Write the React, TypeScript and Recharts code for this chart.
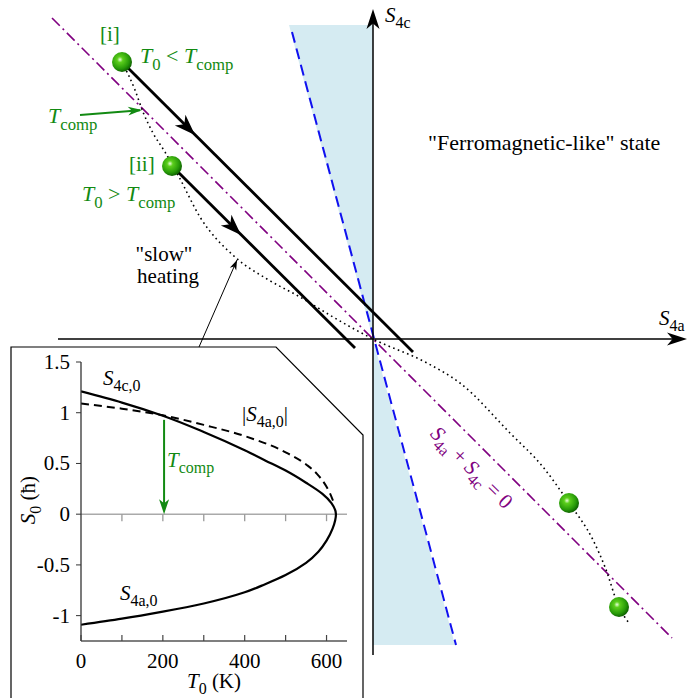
import React from "react";
import {
  ComposedChart,
  Line,
  Area,
  Scatter,
  XAxis,
  YAxis,
  ReferenceLine,
  Customized,
} from "recharts";

const SERIF = '"Liberation Serif", "Times New Roman", Tinos, "DejaVu Serif", serif';
const GREEN = "#128a12";
const PURPLE = "#800080";

// ---- main S4a / S4c plane (1 unit = 100 px) ----
const wedgeTop = [
  { a: -0.84, c: [3.14, 3.14] },
  { a: 0, c: [0, 3.14] },
];
const wedgeBottom = [
  { a: 0, c: [-3.06, 0] },
  { a: 0.82, c: [-3.06, -3.06] },
];
const wedgeEdge = [
  { a: -0.81, c: 3.07 },
  { a: 0.83, c: -3.06 },
];
const compLine = [
  { a: -3.21, c: 3.21 },
  { a: 2.99, c: -2.99 },
];
const pathI = [
  { a: -2.51, c: 2.77 },
  { a: 0.4, c: -0.13 },
];
const pathII = [
  { a: -2.01, c: 1.73 },
  { a: -0.18, c: -0.09 },
];
const slowHeating = [
  { a: -2.51, c: 2.77 },
  { a: -2.38, c: 2.49 },
  { a: -2.3, c: 2.27 },
  { a: -2.2, c: 2.06 },
  { a: -2.08, c: 1.87 },
  { a: -1.95, c: 1.64 },
  { a: -1.73, c: 1.22 },
  { a: -1.38, c: 0.82 },
  { a: -1.06, c: 0.6 },
  { a: -0.73, c: 0.42 },
  { a: -0.4, c: 0.22 },
  { a: 0, c: 0 },
  { a: 0.54, c: -0.24 },
  { a: 0.87, c: -0.44 },
  { a: 1.37, c: -0.94 },
  { a: 1.7, c: -1.28 },
  { a: 1.96, c: -1.64 },
  { a: 2.2, c: -2.01 },
  { a: 2.32, c: -2.28 },
  { a: 2.46, c: -2.68 },
  { a: 2.56, c: -2.84 },
];
const balls = [
  { a: -2.51, c: 2.77 },
  { a: -2.01, c: 1.73 },
  { a: 1.96, c: -1.64 },
  { a: 2.46, c: -2.68 },
];
const hAxis = [{ a: -3.15, c: 0 }, { a: 3.08, c: 0 }];
const vAxis = [{ a: 0, c: -3.16 }, { a: 0, c: 3.24 }];
const pointer = [
  { a: -1.74, c: -0.08 },
  { a: -1.36, c: 0.79 },
];
const tcompPointer = [
  { a: -2.93, c: 2.24 },
  { a: -2.33, c: 2.288 },
];
const heads = [
  { a: 3.14, c: 0, ang: 0, len: 20, wid: 13, color: "#000" },
  { a: 0, c: 3.3, ang: -90, len: 20, wid: 13, color: "#000" },
  { a: -1.78, c: 2.04, ang: 45, len: 21, wid: 15, color: "#000" },
  { a: -1.32, c: 1.04, ang: 45, len: 21, wid: 15, color: "#000" },
  { a: -1.36, c: 0.79, ang: -66.4, len: 10, wid: 7, color: "#000" },
  { a: -2.31, c: 2.29, ang: -4.6, len: 14, wid: 9, color: GREEN },
];

// ---- inset: S0 vs T0 ----
const tempUpper = [0, 100, 200, 300, 400, 450, 500, 550, 590, 612, 623];
const s4cUpper = [1.21, 1.1, 0.97, 0.81, 0.63, 0.53, 0.43, 0.31, 0.2, 0.11, 0];
const tempLower = [623, 615, 600, 580, 550, 500, 450, 400, 300, 200, 100, 0];
const s4aLower = [0, -0.14, -0.26, -0.37, -0.48, -0.6, -0.69, -0.77, -0.88, -0.96, -1.03, -1.09];
const tempDash = [0, 100, 200, 300, 400, 500, 550, 576, 600, 609, 617];
const s4aAbs = [1.09, 1.04, 0.975, 0.88, 0.77, 0.61, 0.49, 0.4, 0.27, 0.2, 0.12];
const xTicks = [0, 100, 200, 300, 400, 500, 600];
const xLabels = [0, 200, 400, 600];
const yTicks = [-1, -0.5, 0, 0.5, 1, 1.5];
const zeroTicks = [100, 200, 300, 400, 500, 600];
const tComp = 203;

const solidData = [
  ...tempUpper.map((T, i) => ({ T, S: s4cUpper[i] })),
  ...tempLower.slice(1).map((T, i) => ({ T, S: s4aLower[i + 1] })),
];
const dashData = tempDash.map((T, i) => ({ T, S: s4aAbs[i] }));
const tcompArrow = [
  { T: tComp, S: 0.93 },
  { T: tComp, S: 0.1 },
];

type Seg = { t: string; it?: boolean; sub?: boolean };

function Rich({
  x,
  y,
  segs,
  size = 21,
  fill = "#000",
  anchor = "start",
  transform,
}: {
  x: number;
  y: number;
  segs: Seg[];
  size?: number;
  fill?: string;
  anchor?: "start" | "middle" | "end";
  transform?: string;
}) {
  let shift = 0;
  const drop = Math.round(size * 0.3);
  return (
    <text
      x={x}
      y={y}
      fontSize={size}
      fill={fill}
      textAnchor={anchor}
      transform={transform}
      style={{ fontFamily: SERIF }}
    >
      {segs.map((s, k) => {
        const target = s.sub ? drop : 0;
        const dy = target - shift;
        shift = target;
        return (
          <tspan
            key={k}
            dy={dy}
            fontStyle={s.it ? "italic" : "normal"}
            fontSize={s.sub ? size * 0.76 : size}
          >
            {s.t}
          </tspan>
        );
      })}
    </text>
  );
}

const Tc: Seg[] = [{ t: "T", it: true }, { t: "comp", sub: true }];
const T0: Seg[] = [{ t: "T", it: true }, { t: "0", sub: true }];

function MainLabels() {
  return (
    <g>
      <Rich x={385} y={22} segs={[{ t: "S", it: true }, { t: "4c", sub: true }]} />
      <Rich x={659} y={325} segs={[{ t: "S", it: true }, { t: "4a", sub: true }]} />
      <Rich x={428} y={150} size={22} segs={[{ t: '"Ferromagnetic-like" state' }]} />
      <Rich x={100} y={41} fill={GREEN} segs={[{ t: "[i]" }]} />
      <Rich x={140} y={63} size={22} fill={GREEN} segs={[...T0, { t: " < " }, ...Tc]} />
      <Rich x={48} y={123} size={22} fill={GREEN} segs={Tc} />
      <Rich x={129} y={171} fill={GREEN} segs={[{ t: "[ii]" }]} />
      <Rich x={82} y={201} size={22} fill={GREEN} segs={[...T0, { t: " > " }, ...Tc]} />
      <Rich x={164} y={261} anchor="middle" segs={[{ t: '"slow"' }]} />
      <Rich x={168} y={283} anchor="middle" segs={[{ t: "heating" }]} />
      <Rich
        x={471}
        y={474}
        anchor="middle"
        fill={PURPLE}
        transform="rotate(45 471 468)"
        segs={[
          { t: "S", it: true },
          { t: "4a", sub: true },
          { t: " + " },
          { t: "S", it: true },
          { t: "4c", sub: true },
          { t: " = 0" },
        ]}
      />
    </g>
  );
}

function InsetLabels() {
  return (
    <g>
      <polyline
        points="11,360 11,7 276,7 363,95 363,360"
        fill="none"
        stroke="#000"
        strokeWidth={1.2}
      />
      <Rich x={103} y={45} segs={[{ t: "S", it: true }, { t: "4c,0", sub: true }]} />
      <Rich
        x={242}
        y={81}
        segs={[{ t: "|" }, { t: "S", it: true }, { t: "4a,0", sub: true }, { t: "|" }]}
      />
      <Rich x={120} y={260} segs={[{ t: "S", it: true }, { t: "4a,0", sub: true }]} />
      <Rich x={167} y={127} fill={GREEN} segs={Tc} />
      <Rich
        x={35}
        y={160}
        anchor="middle"
        transform="rotate(-90 35 160)"
        segs={[{ t: "S", it: true }, { t: "0", sub: true }, { t: " (ħ)" }]}
      />
      <Rich x={214} y={348} anchor="middle" segs={[...T0, { t: " (K)" }]} />
    </g>
  );
}

function ArrowHead(p: any) {
  const { cx, cy, payload } = p;
  const L = payload.len;
  const W = payload.wid;
  return (
    <path
      d={`M0,0 L${-L},${-W / 2} L${-0.72 * L},0 L${-L},${W / 2} Z`}
      transform={`translate(${cx},${cy}) rotate(${payload.ang})`}
      fill={payload.color}
    />
  );
}

function Ball(p: any) {
  const { cx, cy } = p;
  return <circle cx={cx} cy={cy} r={10} fill="url(#ballGrad)" />;
}

function ZeroTick(p: any) {
  const { cx, cy } = p;
  return <line x1={cx} x2={cx} y1={cy} y2={cy + 7} stroke="#999" strokeWidth={1.3} />;
}

function InsetDownHead(p: any) {
  const { cx, cy } = p;
  return (
    <path
      d={`M${cx},${cy} L${cx - 5},${cy - 15} L${cx},${cy - 11} L${cx + 5},${cy - 15} Z`}
      fill={GREEN}
    />
  );
}

function XTick(p: any) {
  const { x, y, payload } = p;
  const v = payload.value;
  return (
    <g>
      <line x1={x} x2={x} y1={y} y2={y - 6} stroke="#444" strokeWidth={1.2} />
      {xLabels.includes(v) && (
        <text x={x} y={y + 27} textAnchor="middle" fontSize={21} style={{ fontFamily: SERIF }} fill="#000">
          {v}
        </text>
      )}
    </g>
  );
}

function YTick(p: any) {
  const { x, y, payload } = p;
  return (
    <text x={x} y={y + 7} textAnchor="end" fontSize={21} style={{ fontFamily: SERIF }} fill="#000">
      {String(payload.value)}
    </text>
  );
}

function MainDiagram() {
  return (
    <ComposedChart width={688} height={698} margin={{ top: 0, right: 0, bottom: 0, left: 0 }}>
      <defs>
        <radialGradient id="ballGrad" cx="40%" cy="38%" r="65%">
          <stop offset="0%" stopColor="#eaffdc" />
          <stop offset="22%" stopColor="#5ccf1c" />
          <stop offset="70%" stopColor="#279a08" />
          <stop offset="100%" stopColor="#0b5a00" />
        </radialGradient>
      </defs>
      <XAxis type="number" dataKey="a" domain={[-3.73, 3.15]} hide allowDataOverflow />
      <YAxis type="number" domain={[-3.59, 3.39]} hide allowDataOverflow />

      <Area data={wedgeTop} dataKey="c" type="linear" stroke="none" fill="#d5ebf2" fillOpacity={1} isAnimationActive={false} />
      <Area data={wedgeBottom} dataKey="c" type="linear" stroke="none" fill="#d5ebf2" fillOpacity={1} isAnimationActive={false} />
      <Line data={wedgeEdge} dataKey="c" type="linear" stroke="#1010f0" strokeWidth={2} strokeDasharray="11 6" dot={false} activeDot={false} isAnimationActive={false} />

      <Line data={hAxis} dataKey="c" type="linear" stroke="#000" strokeWidth={1.5} dot={false} activeDot={false} isAnimationActive={false} />
      <Line data={vAxis} dataKey="c" type="linear" stroke="#000" strokeWidth={1.5} dot={false} activeDot={false} isAnimationActive={false} />

      <Line data={compLine} dataKey="c" type="linear" stroke={PURPLE} strokeWidth={1.6} strokeDasharray="11 4 2 4" dot={false} activeDot={false} isAnimationActive={false} />
      <Line data={slowHeating} dataKey="c" type="monotone" stroke="#000" strokeWidth={1.6} strokeDasharray="1.6 3.4" dot={false} activeDot={false} isAnimationActive={false} />
      <Line data={pathI} dataKey="c" type="linear" stroke="#000" strokeWidth={2.8} dot={false} activeDot={false} isAnimationActive={false} />
      <Line data={pathII} dataKey="c" type="linear" stroke="#000" strokeWidth={2.8} dot={false} activeDot={false} isAnimationActive={false} />
      <Line data={pointer} dataKey="c" type="linear" stroke="#000" strokeWidth={1} dot={false} activeDot={false} isAnimationActive={false} />
      <Line data={tcompPointer} dataKey="c" type="linear" stroke={GREEN} strokeWidth={2} dot={false} activeDot={false} isAnimationActive={false} />

      <Scatter data={heads} dataKey="c" shape={ArrowHead} isAnimationActive={false} />
      <Scatter data={balls} dataKey="c" shape={Ball} isAnimationActive={false} />
      <Customized component={<MainLabels />} />
    </ComposedChart>
  );
}

function Inset() {
  return (
    <ComposedChart width={365} height={358} margin={{ top: 22, right: 18, bottom: 0, left: 0 }}>
      <XAxis
        type="number"
        dataKey="T"
        domain={[0, 650]}
        ticks={xTicks}
        interval={0}
        height={57}
        tickSize={0}
        tickMargin={0}
        tickLine={false}
        tick={<XTick />}
        axisLine={{ stroke: "#555", strokeWidth: 1.3 }}
        allowDataOverflow
      />
      <YAxis
        type="number"
        domain={[-1.25, 1.5]}
        ticks={yTicks}
        interval={0}
        width={81}
        tickSize={5}
        tickMargin={6}
        tickLine={{ stroke: "#333" }}
        axisLine={{ stroke: "#333", strokeWidth: 1.3 }}
        tick={<YTick />}
        allowDataOverflow
      />
      <ReferenceLine y={0} stroke="#aaa" strokeWidth={1.6} />
      <Scatter data={zeroTicks.map((T) => ({ T, S: 0 }))} dataKey="S" shape={ZeroTick} isAnimationActive={false} />
      <Line data={dashData} dataKey="S" type="monotone" stroke="#000" strokeWidth={2} strokeDasharray="8 5" dot={false} activeDot={false} isAnimationActive={false} />
      <Line data={solidData} dataKey="S" type="monotoneY" stroke="#000" strokeWidth={2.2} dot={false} activeDot={false} isAnimationActive={false} />
      <Line data={tcompArrow} dataKey="S" type="linear" stroke={GREEN} strokeWidth={2} dot={false} activeDot={false} isAnimationActive={false} />
      <Scatter data={[{ T: tComp, S: 0 }]} dataKey="S" shape={InsetDownHead} isAnimationActive={false} />
      <Customized component={<InsetLabels />} />
    </ComposedChart>
  );
}

export default function App() {
  return (
    <div style={{ position: "absolute", left: 0, top: 0, width: 688, height: 698, background: "#fff", overflow: "hidden" }}>
      <div style={{ position: "absolute", left: 0, top: 0 }}>
        <MainDiagram />
      </div>
      <div style={{ position: "absolute", left: 0, top: 340 }}>
        <Inset />
      </div>
    </div>
  );
}
